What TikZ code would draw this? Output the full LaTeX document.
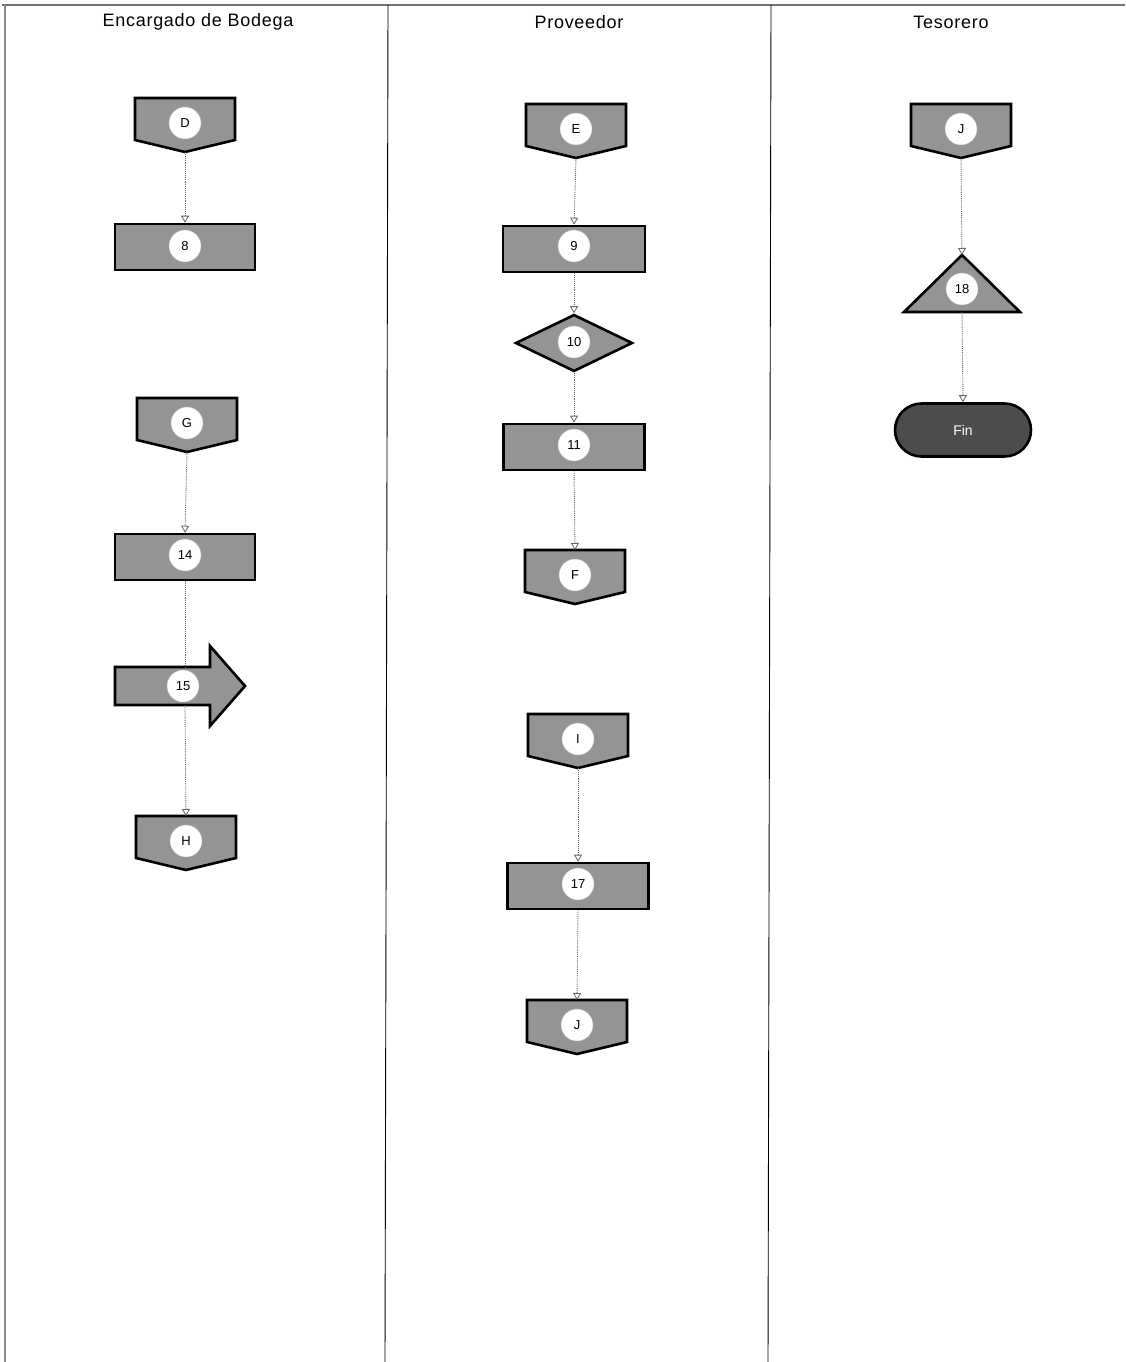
\documentclass[tikz,border=0pt]{standalone}
\usepackage{fontspec}
\setmainfont{Liberation Sans}
\usetikzlibrary{arrows.meta,shapes.geometric,shapes.misc}
\tikzset{
  shapebox/.style={draw=black,line width=2.6pt,fill=black!42,line join=miter},
  rectbox/.style={shapebox,rectangle,minimum height=46pt,inner sep=0pt},
  circ/.style={circle,fill=white,draw=black!25,line width=0.4pt,minimum size=32pt,inner sep=0pt,font=\fontsize{13pt}{15pt}\selectfont},
  flow/.style={draw=black!60,densely dotted,line width=0.9pt,-{Triangle[open,length=7pt,width=8pt,line width=0.8pt]}},
  flowplain/.style={draw=black!60,densely dotted,line width=0.9pt},
  lane/.style={draw=black,line width=0.9pt},
  head/.style={font=\fontsize{18pt}{20pt}\selectfont\addfontfeature{LetterSpace=4}}
}
\newcommand\offp[4]{%
  \draw[shapebox] (#2-50,#3) -- (#2+50,#3) -- (#2+50,#3+42) -- (#2,#3+54) -- (#2-50,#3+42) -- cycle;
  \node[circ] (#1) at (#2,#3+25) {#4};
  \coordinate (#1-t) at (#2,#3);
  \coordinate (#1-b) at (#2,#3+54);
}
\begin{document}
\begin{tikzpicture}[x=1pt,y=-1pt]
\useasboundingbox (0,0) rectangle (1125,1362);
\fill[white] (0,0) rectangle (1125,1362);
% lanes
\draw[black!55,line width=1.2pt] (2,5) -- (1125,5);
\draw[black!45,line width=2pt] (5,5) -- (5,1362);
\draw[lane] (388,5) -- (385,1362);
\draw[lane] (771,5) -- (768,1362);
\node[head] (h1) at (198,22) {Encargado de Bodega};
\node[head] (h2) at (579,22) {Proveedor};
\node[head] (h3) at (951,22) {Tesorero};

% Encargado de Bodega
\offp{D}{185}{98}{D}
\node[rectbox,minimum width=140pt] (n8) at (185,247) {};
\node[circ] (c8) at (185,246) {8};
\offp{G}{187}{398}{G}
\node[rectbox,minimum width=140pt] (n14) at (185,557) {};
\node[circ] (c14) at (185,555) {14};
\draw[shapebox] (115,667) -- (210,667) -- (210,646) -- (245,686) -- (210,726) -- (210,705) -- (115,705) -- cycle;
\coordinate (a15-t) at (185,667);
\coordinate (a15-b) at (185,705);
\node[circ] (c15) at (183,686) {15};
\offp{H}{186}{816}{H}

% Proveedor
\offp{E}{576}{104}{E}
\node[rectbox,minimum width=142pt] (n9) at (574,249) {};
\node[circ] (c9) at (574,246) {9};
\node[shapebox,diamond,minimum width=117pt,minimum height=57pt,inner sep=0pt] (d10) at (574,343) {};
\node[circ] (c10) at (574,342) {10};
\node[rectbox,minimum width=141pt] (n11) at (574,447) {};
\node[circ] (c11) at (574,445) {11};
\offp{F}{575}{550}{F}
\offp{I}{578}{714}{I}
\node[rectbox,minimum width=141pt] (n17) at (578,886) {};
\node[circ] (c17) at (578,884) {17};
\offp{J2}{577}{1000}{J}

% Tesorero
\offp{J}{961}{104}{J}
\draw[shapebox] (962,255) -- (1020,312) -- (904,312) -- cycle;
\coordinate (t18-t) at (962,255);
\coordinate (t18-b) at (962,312);
\node[circ] (c18) at (962,289) {18};
\node[shapebox,rounded rectangle,fill=black!70,minimum width=136pt,minimum height=53pt,inner sep=0pt,text=white,font=\fontsize{14pt}{16pt}\selectfont] (fin) at (963,430) {Fin};

% connectors
\draw[flow] (D-b) -- (n8.north);
\draw[flow] (G-b) -- (n14.north);
\draw[flowplain] (n14.south) -- (a15-t);
\draw[flow] (a15-b) -- (H-t);
\draw[flow] (E-b) -- (n9.north);
\draw[flow] (n9.south) -- (d10.north);
\draw[flow] (d10.south) -- (n11.north);
\draw[flow] (n11.south) -- (F-t);
\draw[flow] (I-b) -- (n17.north);
\draw[flow] (n17.south) -- (J2-t);
\draw[flow] (J-b) -- (t18-t);
\draw[flow] (t18-b) -- (fin.north);
\end{tikzpicture}
\end{document}
